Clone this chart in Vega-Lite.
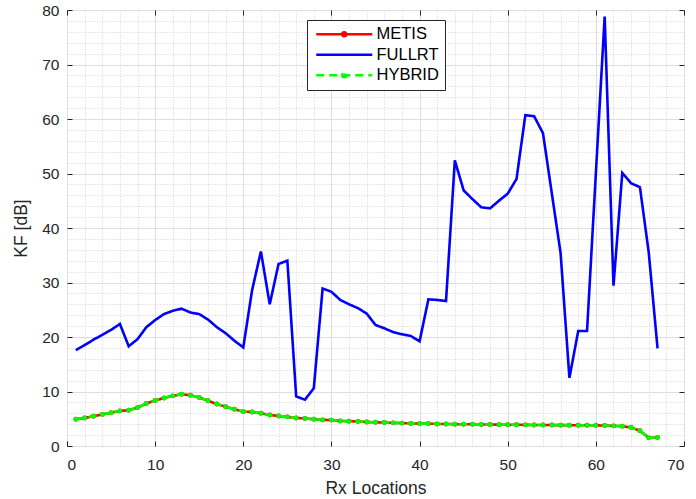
{
  "$schema": "https://vega.github.io/schema/vega-lite/v6.json",
  "width": 617,
  "height": 436,
  "autosize": {"type": "none"},
  "padding": {"left": 67, "top": 10, "right": 12, "bottom": 53},
  "background": "white",
  "config": {
    "font": "Liberation Sans",
    "view": {"stroke": "#262626", "strokeWidth": 1},
    "axis": {
      "labelFont": "Liberation Sans",
      "titleFont": "Liberation Sans",
      "labelFontSize": 15.5,
      "titleFontSize": 17.5,
      "labelColor": "#262626",
      "titleColor": "#262626",
      "titleFontWeight": "normal",
      "tickColor": "#262626",
      "domain": false
    }
  },
  "data": {
    "values": [
      {"loc": 1, "METIS": 4.9, "FULLRT": 17.6, "HYBRID": 4.9},
      {"loc": 2, "METIS": 5.15, "FULLRT": 18.5, "HYBRID": 5.15},
      {"loc": 3, "METIS": 5.45, "FULLRT": 19.5, "HYBRID": 5.45},
      {"loc": 4, "METIS": 5.8, "FULLRT": 20.4, "HYBRID": 5.8},
      {"loc": 5, "METIS": 6.1, "FULLRT": 21.3, "HYBRID": 6.1},
      {"loc": 6, "METIS": 6.45, "FULLRT": 22.4, "HYBRID": 6.45},
      {"loc": 7, "METIS": 6.55, "FULLRT": 18.3, "HYBRID": 6.55},
      {"loc": 8, "METIS": 7.05, "FULLRT": 19.6, "HYBRID": 7.05},
      {"loc": 9, "METIS": 7.8, "FULLRT": 21.8, "HYBRID": 7.8},
      {"loc": 10, "METIS": 8.35, "FULLRT": 23.1, "HYBRID": 8.35},
      {"loc": 11, "METIS": 8.8, "FULLRT": 24.2, "HYBRID": 8.8},
      {"loc": 12, "METIS": 9.2, "FULLRT": 24.8, "HYBRID": 9.2},
      {"loc": 13, "METIS": 9.5, "FULLRT": 25.2, "HYBRID": 9.5},
      {"loc": 14, "METIS": 9.3, "FULLRT": 24.5, "HYBRID": 9.3},
      {"loc": 15, "METIS": 8.9, "FULLRT": 24.2, "HYBRID": 8.9},
      {"loc": 16, "METIS": 8.3, "FULLRT": 23.2, "HYBRID": 8.3},
      {"loc": 17, "METIS": 7.7, "FULLRT": 21.8, "HYBRID": 7.7},
      {"loc": 18, "METIS": 7.2, "FULLRT": 20.7, "HYBRID": 7.2},
      {"loc": 19, "METIS": 6.75, "FULLRT": 19.3, "HYBRID": 6.75},
      {"loc": 20, "METIS": 6.3, "FULLRT": 18.1, "HYBRID": 6.3},
      {"loc": 21, "METIS": 6.25, "FULLRT": 28.6, "HYBRID": 6.25},
      {"loc": 22, "METIS": 6.0, "FULLRT": 35.7, "HYBRID": 6.0},
      {"loc": 23, "METIS": 5.7, "FULLRT": 26.0, "HYBRID": 5.7},
      {"loc": 24, "METIS": 5.5, "FULLRT": 33.4, "HYBRID": 5.5},
      {"loc": 25, "METIS": 5.35, "FULLRT": 34.0, "HYBRID": 5.35},
      {"loc": 26, "METIS": 5.15, "FULLRT": 9.1, "HYBRID": 5.15},
      {"loc": 27, "METIS": 5.05, "FULLRT": 8.5, "HYBRID": 5.05},
      {"loc": 28, "METIS": 4.9, "FULLRT": 10.6, "HYBRID": 4.9},
      {"loc": 29, "METIS": 4.8, "FULLRT": 28.9, "HYBRID": 4.8},
      {"loc": 30, "METIS": 4.75, "FULLRT": 28.3, "HYBRID": 4.75},
      {"loc": 31, "METIS": 4.6, "FULLRT": 26.8, "HYBRID": 4.6},
      {"loc": 32, "METIS": 4.55, "FULLRT": 26.0, "HYBRID": 4.55},
      {"loc": 33, "METIS": 4.5, "FULLRT": 25.3, "HYBRID": 4.5},
      {"loc": 34, "METIS": 4.4, "FULLRT": 24.3, "HYBRID": 4.4},
      {"loc": 35, "METIS": 4.35, "FULLRT": 22.2, "HYBRID": 4.35},
      {"loc": 36, "METIS": 4.3, "FULLRT": 21.6, "HYBRID": 4.3},
      {"loc": 37, "METIS": 4.25, "FULLRT": 20.9, "HYBRID": 4.25},
      {"loc": 38, "METIS": 4.2, "FULLRT": 20.5, "HYBRID": 4.2},
      {"loc": 39, "METIS": 4.15, "FULLRT": 20.2, "HYBRID": 4.15},
      {"loc": 40, "METIS": 4.1, "FULLRT": 19.2, "HYBRID": 4.1},
      {"loc": 41, "METIS": 4.1, "FULLRT": 26.9, "HYBRID": 4.1},
      {"loc": 42, "METIS": 4.05, "FULLRT": 26.8, "HYBRID": 4.05},
      {"loc": 43, "METIS": 4.05, "FULLRT": 26.6, "HYBRID": 4.05},
      {"loc": 44, "METIS": 4.0, "FULLRT": 52.4, "HYBRID": 4.0},
      {"loc": 45, "METIS": 4.0, "FULLRT": 46.9, "HYBRID": 4.0},
      {"loc": 46, "METIS": 3.98, "FULLRT": 45.3, "HYBRID": 3.98},
      {"loc": 47, "METIS": 3.96, "FULLRT": 43.8, "HYBRID": 3.96},
      {"loc": 48, "METIS": 3.94, "FULLRT": 43.6, "HYBRID": 3.94},
      {"loc": 49, "METIS": 3.92, "FULLRT": 45.0, "HYBRID": 3.92},
      {"loc": 50, "METIS": 3.9, "FULLRT": 46.3, "HYBRID": 3.9},
      {"loc": 51, "METIS": 3.9, "FULLRT": 49.0, "HYBRID": 3.9},
      {"loc": 52, "METIS": 3.88, "FULLRT": 60.7, "HYBRID": 3.88},
      {"loc": 53, "METIS": 3.86, "FULLRT": 60.5, "HYBRID": 3.86},
      {"loc": 54, "METIS": 3.85, "FULLRT": 57.4, "HYBRID": 3.85},
      {"loc": 55, "METIS": 3.84, "FULLRT": 46.4, "HYBRID": 3.84},
      {"loc": 56, "METIS": 3.83, "FULLRT": 35.4, "HYBRID": 3.83},
      {"loc": 57, "METIS": 3.82, "FULLRT": 12.5, "HYBRID": 3.82},
      {"loc": 58, "METIS": 3.81, "FULLRT": 21.1, "HYBRID": 3.81},
      {"loc": 59, "METIS": 3.8, "FULLRT": 21.1, "HYBRID": 3.8},
      {"loc": 60, "METIS": 3.8, "FULLRT": 50.0, "HYBRID": 3.8},
      {"loc": 61, "METIS": 3.75, "FULLRT": 78.8, "HYBRID": 3.75},
      {"loc": 62, "METIS": 3.7, "FULLRT": 29.4, "HYBRID": 3.7},
      {"loc": 63, "METIS": 3.62, "FULLRT": 50.1, "HYBRID": 3.62},
      {"loc": 64, "METIS": 3.4, "FULLRT": 48.2, "HYBRID": 3.4},
      {"loc": 65, "METIS": 2.8, "FULLRT": 47.5, "HYBRID": 2.8},
      {"loc": 66, "METIS": 1.5, "FULLRT": 35.5, "HYBRID": 1.5},
      {"loc": 67, "METIS": 1.55, "FULLRT": 17.9, "HYBRID": 1.55}
    ]
  },
  "transform": [{"fold": ["METIS", "FULLRT", "HYBRID"], "as": ["series", "kf"]}],
  "layer": [
    {
      "mark": {"type": "point", "opacity": 0},
      "encoding": {
        "x": {
          "field": "loc", "type": "quantitative",
          "scale": {"domain": [0, 70], "nice": false},
          "axis": {
            "orient": "bottom",
            "values": [0,2,4,6,8,10,12,14,16,18,20,22,24,26,28,30,32,34,36,38,40,42,44,46,48,50,52,54,56,58,60,62,64,66,68,70],
            "grid": true, "gridDash": [1, 2], "gridColor": "#c4c4c4", "gridWidth": 0.8,
            "labels": false, "ticks": false, "title": null
          }
        },
        "y": {
          "field": "kf", "type": "quantitative",
          "scale": {"domain": [0, 80], "nice": false},
          "axis": {
            "orient": "left",
            "values": [0,2,4,6,8,10,12,14,16,18,20,22,24,26,28,30,32,34,36,38,40,42,44,46,48,50,52,54,56,58,60,62,64,66,68,70,72,74,76,78,80],
            "grid": true, "gridDash": [1, 2], "gridColor": "#c4c4c4", "gridWidth": 0.8,
            "labels": false, "ticks": false, "title": null
          }
        }
      }
    },
    {
      "mark": {"type": "line", "strokeWidth": 2.6},
      "encoding": {
        "x": {
          "field": "loc", "type": "quantitative",
          "scale": {"domain": [0, 70], "nice": false},
          "axis": {
            "orient": "bottom",
            "values": [0,10,20,30,40,50,60,70],
            "grid": true, "gridColor": "#dedede", "gridWidth": 1,
            "ticks": true, "tickSize": -5, "labelPadding": 16,
            "title": "Rx Locations", "titlePadding": 7
          }
        },
        "y": {
          "field": "kf", "type": "quantitative",
          "scale": {"domain": [0, 80], "nice": false},
          "axis": {
            "orient": "left",
            "values": [0,10,20,30,40,50,60,70,80],
            "grid": true, "gridColor": "#dedede", "gridWidth": 1,
            "ticks": true, "tickSize": -5, "labelPadding": 13,
            "title": "KF [dB]", "titlePadding": 11
          }
        },
        "color": {
          "field": "series", "type": "nominal",
          "scale": {"domain": ["METIS", "FULLRT", "HYBRID"], "range": ["#ff0000", "#0000ff", "#00ff00"]},
          "legend": {
            "title": null,
            "orient": "none",
            "legendX": 240,
            "legendY": 10,
            "fillColor": "white",
            "strokeColor": "#262626",
            "padding": 6,
            "labelFont": "Liberation Sans",
            "labelFontSize": 16.5,
            "labelColor": "#000000",
            "rowPadding": 3.5,
            "symbolSize": 100,
            "symbolStrokeWidth": 2.6,
            "symbolOffset": 23,
            "labelOffset": 24,
            "encode": {
              "symbols": {
                "update": {
                  "shape": {"signal": "datum.value === 'FULLRT' ? 'M-5.6,0H5.6' : 'M-5.6,0H5.6M0.4,0A0.4,0.4 0 1,1 -0.4,0A0.4,0.4 0 1,1 0.4,0'"},
                  "fill": {"scale": "color", "field": "value"}
                }
              }
            }
          }
        },
        "strokeDash": {
          "field": "series", "type": "nominal",
          "scale": {"domain": ["METIS", "FULLRT", "HYBRID"], "range": [[1, 0], [1, 0], [8, 5]]},
          "legend": {
            "title": null,
            "orient": "none",
            "legendX": 240,
            "legendY": 10,
            "fillColor": "white",
            "strokeColor": "#262626",
            "padding": 6,
            "labelFont": "Liberation Sans",
            "labelFontSize": 16.5,
            "labelColor": "#000000",
            "rowPadding": 3.5,
            "symbolSize": 100,
            "symbolStrokeWidth": 2.6,
            "symbolOffset": 23,
            "labelOffset": 24,
            "encode": {
              "symbols": {
                "update": {
                  "shape": {"signal": "datum.value === 'FULLRT' ? 'M-5.6,0H5.6' : 'M-5.6,0H5.6M0.4,0A0.4,0.4 0 1,1 -0.4,0A0.4,0.4 0 1,1 0.4,0'"},
                  "fill": {"scale": "color", "field": "value"}
                }
              }
            }
          }
        }
      }
    },
    {
      "transform": [{"filter": "datum.series !== 'FULLRT'"}],
      "mark": {"type": "point", "filled": true, "opacity": 1, "size": 24},
      "encoding": {
        "x": {"field": "loc", "type": "quantitative", "scale": {"domain": [0, 70], "nice": false}, "axis": null},
        "y": {"field": "kf", "type": "quantitative", "scale": {"domain": [0, 80], "nice": false}, "axis": null},
        "color": {"field": "series", "type": "nominal", "legend": null}
      }
    },
    {
      "mark": {"type": "point", "opacity": 0},
      "encoding": {
        "x": {
          "field": "loc", "type": "quantitative",
          "scale": {"domain": [0, 70], "nice": false},
          "axis": {"orient": "top", "values": [0,10,20,30,40,50,60,70], "grid": false, "labels": false, "ticks": true, "tickSize": -5, "title": null}
        },
        "y": {
          "field": "kf", "type": "quantitative",
          "scale": {"domain": [0, 80], "nice": false},
          "axis": {"orient": "right", "values": [0,10,20,30,40,50,60,70,80], "grid": false, "labels": false, "ticks": true, "tickSize": -5, "title": null}
        }
      }
    }
  ],
  "resolve": {"axis": {"x": "independent", "y": "independent"}}
}
